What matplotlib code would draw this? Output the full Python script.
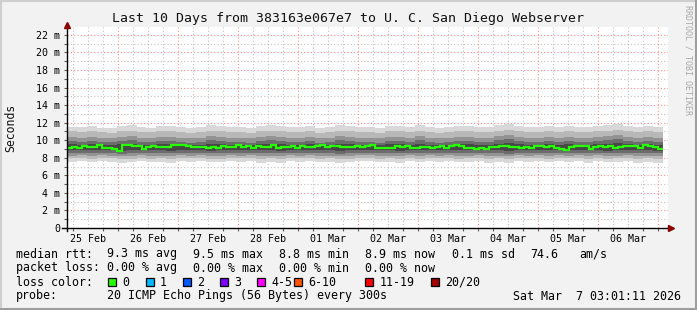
#!/usr/bin/env python3
"""SmokePing style 10 day latency chart (median rtt + smoke) for U. C. San Diego Webserver."""

import matplotlib

matplotlib.use("Agg")
import matplotlib.pyplot as plt
import numpy as np
from matplotlib.lines import Line2D
from matplotlib.patches import Rectangle

W, H = 697, 310
FONT = "DejaVu Sans Mono"

TITLE = "Last 10 Days from 383163e067e7 to U. C. San Diego Webserver"
DAY_LABELS = ["25 Feb", "26 Feb", "27 Feb", "28 Feb", "01 Mar",
              "02 Mar", "03 Mar", "04 Mar", "05 Mar", "06 Mar"]
Y_TICKS = [0, 2, 4, 6, 8, 10, 12, 14, 16, 18, 20, 22]

# median rtt in ms, one value per ~2h step
MEDIAN = [
    9.10, 9.20, 9.10, 9.35, 9.25, 9.25, 9.40, 9.10, 9.08, 9.05,
    8.80, 9.45, 9.40, 9.30, 9.35, 9.00, 9.20, 9.30, 9.20, 9.20,
    9.25, 9.45, 9.45, 9.40, 9.30, 9.20, 9.25, 9.20, 9.10, 9.25,
    9.10, 9.35, 9.20, 9.25, 9.40, 9.20, 9.30, 9.10, 9.35, 9.20,
    9.20, 9.45, 9.15, 9.25, 9.20, 9.30, 9.15, 9.35, 9.25, 9.20,
    9.30, 9.40, 9.20, 9.30, 9.35, 9.25, 9.25, 9.20, 9.35, 9.25,
    9.30, 9.50, 9.15, 9.15, 9.15, 9.15, 9.35, 9.25, 9.30, 9.10,
    9.15, 9.20, 9.20, 9.15, 9.25, 9.30, 9.10, 9.35, 9.40, 9.30,
    9.15, 9.10, 9.05, 9.15, 8.95, 9.20, 9.25, 9.35, 9.35, 9.20,
    9.25, 9.10, 9.20, 9.15, 9.30, 9.30, 9.25, 9.35, 9.15, 9.05,
    8.85, 9.25, 9.30, 9.35, 9.35, 9.00, 9.20, 9.35, 9.25, 9.30,
    9.15, 9.20, 9.30, 9.30, 9.35, 9.15, 9.45, 9.30, 9.25, 8.95,
]

# smoke bands (ms), one value per ~4h step, outer -> inner
HI1 = [
    11.5, 11.5, 11.6, 11.4, 11.4, 11.6, 11.7, 11.5, 11.4, 11.6,
    11.6, 11.5, 11.4, 11.5, 11.7, 11.6, 11.5, 11.5, 11.4, 11.6,
    11.7, 11.6, 11.5, 11.5, 11.6, 11.4, 11.5, 11.7, 11.6, 11.5,
    11.5, 11.4, 11.6, 11.6, 11.5, 11.7, 11.5, 11.4, 11.5, 11.6,
    11.6, 11.5, 11.5, 11.7, 11.8, 11.6, 11.5, 11.5, 11.6, 11.5,
    11.6, 11.5, 11.5, 11.6, 11.7, 11.8, 11.6, 11.5, 11.6, 11.5,
]
HI2 = [
    11.0, 10.9, 11.0, 10.9, 10.8, 11.0, 11.1, 10.9, 10.9, 11.0,
    11.0, 10.9, 10.8, 10.9, 11.1, 11.0, 10.9, 10.9, 10.8, 11.0,
    11.1, 11.0, 10.9, 10.9, 11.0, 10.8, 10.9, 11.1, 11.0, 10.9,
    10.9, 10.8, 11.0, 11.0, 10.9, 11.1, 10.9, 10.8, 10.9, 11.0,
    11.0, 10.9, 10.9, 11.1, 11.2, 11.0, 10.9, 10.9, 11.0, 10.9,
    11.0, 10.9, 10.9, 11.0, 11.1, 11.2, 11.0, 10.9, 11.0, 10.9,
]
HI3 = [
    10.4, 10.3, 10.4, 10.3, 10.3, 10.4, 10.5, 10.3, 10.3, 10.4,
    10.4, 10.3, 10.2, 10.3, 10.5, 10.4, 10.3, 10.3, 10.2, 10.4,
    10.5, 10.4, 10.3, 10.3, 10.4, 10.2, 10.3, 10.5, 10.4, 10.3,
    10.3, 10.2, 10.4, 10.4, 10.3, 10.5, 10.3, 10.2, 10.3, 10.4,
    10.4, 10.3, 10.3, 10.5, 10.6, 10.4, 10.3, 10.3, 10.4, 10.3,
    10.4, 10.3, 10.3, 10.4, 10.5, 10.6, 10.4, 10.3, 10.4, 10.3,
]
HI4 = [
    9.9, 9.8, 9.9, 9.8, 9.8, 9.9, 10.0, 9.8, 9.8, 9.9,
    9.9, 9.8, 9.7, 9.8, 10.0, 9.9, 9.8, 9.8, 9.7, 9.9,
    10.0, 9.9, 9.8, 9.8, 9.9, 9.7, 9.8, 10.0, 9.9, 9.8,
    9.8, 9.7, 9.9, 9.9, 9.8, 10.0, 9.8, 9.7, 9.8, 9.9,
    9.9, 9.8, 9.8, 10.0, 10.1, 9.9, 9.8, 9.8, 9.9, 9.8,
    9.9, 9.8, 9.8, 9.9, 10.0, 10.1, 9.9, 9.8, 9.9, 9.8,
]
HI5 = [
    9.55, 9.50, 9.55, 9.50, 9.50, 9.60, 9.60, 9.50, 9.50, 9.55,
    9.55, 9.50, 9.45, 9.50, 9.60, 9.60, 9.50, 9.50, 9.45, 9.55,
    9.60, 9.60, 9.50, 9.50, 9.55, 9.45, 9.50, 9.60, 9.55, 9.50,
    9.50, 9.45, 9.55, 9.55, 9.50, 9.60, 9.50, 9.45, 9.50, 9.55,
    9.55, 9.50, 9.50, 9.60, 9.65, 9.55, 9.50, 9.50, 9.55, 9.50,
    9.55, 9.50, 9.50, 9.55, 9.60, 9.65, 9.55, 9.50, 9.55, 9.50,
]
LO5 = [
    8.85, 8.90, 8.85, 8.90, 8.90, 8.80, 8.85, 8.90, 8.85, 8.85,
    8.80, 8.90, 8.85, 8.90, 8.80, 8.85, 8.90, 8.85, 8.90, 8.85,
    8.85, 8.80, 8.90, 8.85, 8.90, 8.85, 8.90, 8.80, 8.85, 8.90,
    8.90, 8.85, 8.85, 8.80, 8.90, 8.85, 8.90, 8.85, 8.90, 8.85,
    8.85, 8.90, 8.85, 8.85, 8.80, 8.90, 8.85, 8.90, 8.85, 8.90,
    8.85, 8.90, 8.85, 8.90, 8.80, 8.85, 8.90, 8.85, 8.85, 8.80,
]
LO4 = [
    8.55, 8.60, 8.50, 8.60, 8.55, 8.45, 8.55, 8.60, 8.50, 8.55,
    8.50, 8.60, 8.55, 8.60, 8.50, 8.50, 8.60, 8.55, 8.60, 8.50,
    8.55, 8.50, 8.60, 8.55, 8.60, 8.50, 8.55, 8.45, 8.55, 8.60,
    8.60, 8.50, 8.55, 8.50, 8.60, 8.50, 8.60, 8.55, 8.60, 8.50,
    8.55, 8.60, 8.50, 8.55, 8.45, 8.60, 8.55, 8.60, 8.50, 8.60,
    8.55, 8.60, 8.50, 8.60, 8.50, 8.55, 8.60, 8.50, 8.55, 8.50,
]
LO3 = [
    8.25, 8.30, 8.20, 8.30, 8.25, 8.15, 8.20, 8.30, 8.20, 8.25,
    8.20, 8.30, 8.25, 8.30, 8.20, 8.20, 8.30, 8.25, 8.30, 8.20,
    8.25, 8.20, 8.30, 8.25, 8.30, 8.20, 8.25, 8.15, 8.20, 8.30,
    8.30, 8.20, 8.25, 8.20, 8.30, 8.20, 8.30, 8.25, 8.30, 8.20,
    8.25, 8.30, 8.20, 8.25, 8.15, 8.30, 8.25, 8.30, 8.20, 8.30,
    8.25, 8.30, 8.20, 8.30, 8.20, 8.25, 8.30, 8.20, 8.25, 8.20,
]
LO2 = [
    7.95, 8.00, 7.90, 8.00, 7.95, 7.85, 7.90, 8.00, 7.90, 7.95,
    7.90, 8.00, 7.95, 8.00, 7.90, 7.90, 8.00, 7.95, 8.00, 7.90,
    7.95, 7.90, 8.00, 7.95, 8.00, 7.90, 7.95, 7.85, 7.90, 8.00,
    8.00, 7.90, 7.95, 7.90, 8.00, 7.90, 8.00, 7.95, 8.00, 7.90,
    7.95, 8.00, 7.90, 7.95, 7.85, 8.00, 7.95, 8.00, 7.90, 8.00,
    7.95, 8.00, 7.90, 8.00, 7.90, 7.95, 8.00, 7.90, 7.95, 7.90,
]
LO1 = [
    7.5, 7.6, 7.5, 7.6, 7.5, 7.4, 7.5, 7.6, 7.5, 7.5,
    7.4, 7.6, 7.5, 7.6, 7.5, 7.5, 7.6, 7.5, 7.6, 7.4,
    7.5, 7.4, 7.6, 7.5, 7.6, 7.5, 7.5, 7.4, 7.5, 7.6,
    7.6, 7.5, 7.5, 7.4, 7.6, 7.5, 7.6, 7.5, 7.6, 7.5,
    7.5, 7.6, 7.4, 7.5, 7.4, 7.6, 7.5, 7.6, 7.5, 7.6,
    7.5, 7.6, 7.4, 7.6, 7.5, 7.5, 7.6, 7.4, 7.5, 7.4,
]

LOSS_LABELS = ["0", "1", "2", "3", "4-5", "6-10", "11-19", "20/20"]
LOSS_COLORS = ["#26ff00", "#00b8ff", "#0059ff", "#7e00ff",
               "#ff00ff", "#ff5500", "#ff0000", "#a10000"]

STAT_ROWS = [
    ("median rtt:", ["9.3 ms avg", "9.5 ms max", "8.8 ms min", "8.9 ms now",
                     "0.1 ms sd", "74.6", "am/s"]),
    ("packet loss:", ["0.00 % avg", "0.00 % max", "0.00 % min", "0.00 % now"]),
]
PROBE = "20 ICMP Echo Pings (56 Bytes) every 300s"
STAMP = "Sat Mar  7 03:01:11 2026"

BG = "#f2f2f2"
SMOKE = ["#d8d8d8", "#b8b8b8", "#939393", "#6c6c6c", "#474747"]
GRID = "#c4c4c4"
MGRID = "#ff8c8c"
ARROW = "#8b0000"


def fx(x):
    return x / W


def fy(y):
    return 1 - y / H


def day_of(xpx):
    # pixel column -> days since 25 Feb 00:00 (60 px per day, 25 Feb at x=58)
    return (xpx - 58) / 60.0


fig = plt.figure(figsize=(W / 100, H / 100), dpi=100, facecolor=BG)

# 3d-ish frame
fig.add_artist(Line2D([0, 1], [fy(0.5)] * 2, color="#cfcfcf", lw=1.5))
fig.add_artist(Line2D([fx(0.5)] * 2, [0, 1], color="#cfcfcf", lw=1.5))
fig.add_artist(Line2D([0, 1], [fy(H - 1.5)] * 2, color="#9e9e9e", lw=2.2))
fig.add_artist(Line2D([fx(W - 1.5)] * 2, [0, 1], color="#9e9e9e", lw=2.2))

ax = fig.add_axes([fx(67), fy(228), fx(668) - fx(67), fy(27) - fy(228)])
ax.set_facecolor("white")
ax.set_xlim(day_of(67), day_of(668))
ax.set_ylim(0, 22.9)
for s in ax.spines.values():
    s.set_visible(False)

# grid
for v in range(1, 23):
    ax.axhline(v, color=MGRID if v % 2 == 0 else GRID, lw=0.8,
               ls=(0, (1, 2)), zorder=1)
for q in range(1, 41):
    d = q / 4
    if d > day_of(668):
        break
    ax.axvline(d, color=MGRID if q % 4 == 0 else GRID, lw=0.8,
               ls=(0, (1, 2)), zorder=1)

# smoke
t0, t1 = day_of(67), day_of(663)
edges_s = np.linspace(t0, t1, len(HI1) + 1)
bands = [(LO1, HI1), (LO2, HI2), (LO3, HI3), (LO4, HI4), (LO5, HI5)]
for (lo, hi), c in zip(bands, SMOKE):
    ax.stairs(hi, edges_s, baseline=lo, fill=True, color=c, lw=0, zorder=2)

edges_m = np.linspace(t0, t1, len(MEDIAN) + 1)
ax.stairs(MEDIAN, edges_m, baseline=None, color=LOSS_COLORS[0], lw=1.6, zorder=3)

# ticks
ax.set_yticks(Y_TICKS)
ax.set_yticklabels([f"{v} m" if v else "0" for v in Y_TICKS])
ax.set_yticks(range(1, 23, 2), minor=True)
ax.tick_params(axis="y", which="both", direction="out", length=2.2, width=0.8,
               color="#606060", pad=2.8, labelsize=7.2)
ax.set_xticks(np.arange(len(DAY_LABELS)) + 0.5)
ax.set_xticklabels(DAY_LABELS)
ax.tick_params(axis="x", which="major", length=0, pad=4.0, labelsize=7.2)
ax.set_xticks([q / 4 for q in range(1, 41) if q / 4 < day_of(668)], minor=True)
ax.tick_params(axis="x", which="minor", direction="out", length=1.8, width=0.8,
               color="#606060")
for lab in ax.get_xticklabels() + ax.get_yticklabels():
    lab.set_fontfamily(FONT)

# axes with arrows
fig.add_artist(Line2D([fx(62), fx(669)], [fy(228.3)] * 2, color="black", lw=1.0))
fig.add_artist(Line2D([fx(66.5)] * 2, [fy(231), fy(27)], color="black", lw=1.0))
fig.add_artist(Line2D([fx(671)], [fy(228.3)], marker=">", ms=5, color=ARROW, lw=0))
fig.add_artist(Line2D([fx(66.5)], [fy(24.5)], marker="^", ms=5, color=ARROW, lw=0))

# titles
fig.text(fx(348), fy(18.5), TITLE, ha="center", va="center",
         family=FONT, fontsize=9.5, color="#111111")
fig.text(fx(11), fy(128), "Seconds", rotation=90, ha="center", va="center",
         family=FONT, fontsize=8.3, color="#111111")
fig.text(fx(688), fy(5), "RRDTOOL / TOBI OETIKER", rotation=270, ha="center",
         va="top", family=FONT, fontsize=6, color="#a8a8a8")

# legend block
col_x = [107, 193, 279, 365, 452, 530, 579]
row_y = [254, 268, 282, 296]
for (head, fields), y in zip(STAT_ROWS, row_y):
    fig.text(fx(16), fy(y), head, va="center", family=FONT, fontsize=8.35)
    for x, f in zip(col_x, fields):
        fig.text(fx(x), fy(y), f, va="center", family=FONT, fontsize=8.35)

fig.text(fx(16), fy(row_y[2]), "loss color:", va="center", family=FONT, fontsize=8.35)
box_x = [108, 145.5, 182.5, 219.5, 256.5, 293.5, 365, 431]
for bx, lab, c in zip(box_x, LOSS_LABELS, LOSS_COLORS):
    fig.add_artist(Rectangle((fx(bx), fy(286)), fx(8), 8 / H, facecolor=c,
                             edgecolor="black", lw=0.9))
    fig.text(fx(bx + 14.5), fy(row_y[2]), lab, va="center", family=FONT, fontsize=8.35)

fig.text(fx(16), fy(row_y[3]), "probe:", va="center", family=FONT, fontsize=8.35)
fig.text(fx(107), fy(row_y[3]), PROBE, va="center", family=FONT, fontsize=8.35)
fig.text(fx(513), fy(row_y[3]), STAMP, va="center", family=FONT, fontsize=8.35)

fig.savefig("out.png", dpi=100, facecolor=BG)
